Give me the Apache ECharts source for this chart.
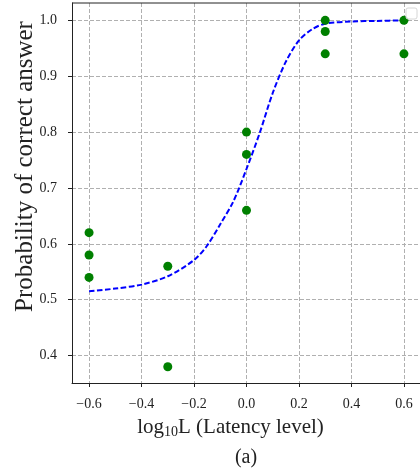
<!DOCTYPE html>
<html>
<head>
<meta charset="utf-8">
<script src="https://cdn.jsdelivr.net/npm/echarts@6/dist/echarts.min.js"></script>
<style>html,body{margin:0;padding:0;background:#fff}#c{width:420px;height:470px}</style>
</head>
<body>
<div id="c"></div>
<script>
// Observed data points (latency level, probability)
const obsX = [-0.6, -0.6, -0.6, -0.3, -0.3, 0.0, 0.0, 0.0, 0.3, 0.3, 0.3, 0.6, 0.6];
const obsY = [0.62, 0.58, 0.54, 0.56, 0.38, 0.80, 0.76, 0.66, 1.00, 0.98, 0.94, 1.00, 0.94];
// Fitted curve
const fitX = [-0.6, -0.5, -0.4, -0.3, -0.2, -0.15, -0.1, -0.05, 0.0, 0.05, 0.1, 0.15, 0.2, 0.25, 0.3, 0.4, 0.5, 0.6];
const fitY = [0.515, 0.520, 0.527, 0.542, 0.571, 0.597, 0.635, 0.676, 0.734, 0.798, 0.870, 0.926, 0.964, 0.984, 0.994, 0.998, 0.999, 1.0];
// Tick labels
const xTicks = [-0.6, -0.4, -0.2, 0.0, 0.2, 0.4, 0.6];
const yTicks = [0.4, 0.5, 0.6, 0.7, 0.8, 0.9, 1.0];

const FONT = '"Liberation Serif", "DejaVu Serif", serif';
const fmt = v => v.toFixed(1).replace('-', '\u2212');
const chart = echarts.init(document.getElementById('c'), null, {renderer: 'canvas'});
const gridLine = {show: true, lineStyle: {color: '#b0b0b0', type: [4, 2], width: 1}};
chart.setOption({
  animation: false,
  title: {text: '(a)', left: 241, top: 443, textAlign: 'center',
    textStyle: {fontFamily: FONT, fontSize: 20, fontWeight: 'normal', color: '#222'}},
  grid: {left: 72, right: -1, top: 3, bottom: 87, containLabel: false, outerBoundsMode: 'none'},
  xAxis: {
    type: 'value', min: -0.665, max: 0.665,
    axisLine: {show: true, onZero: false, lineStyle: {color: '#222', width: 1}},
    axisTick: {show: true, inside: false, length: 4, customValues: xTicks, lineStyle: {color: '#222'}},
    axisLabel: {customValues: xTicks, margin: 14, fontFamily: FONT, fontSize: 14, color: '#222',
      formatter: fmt},
    splitLine: gridLine,
    name: '{t|log}{s|10}{t|L (Latency level)}',
    nameLocation: 'middle', nameGap: 33, nameMoveOverlap: false,
    nameTextStyle: {padding: [0, 32, 0, 0], rich: {
      t: {fontFamily: FONT, fontSize: 21, color: '#222'},
      s: {fontFamily: FONT, fontSize: 14, color: '#222', verticalAlign: 'bottom', padding: [9, 0, 0, 0]}
    }}
  },
  yAxis: {
    type: 'value', min: 0.351, max: 1.031,
    axisLine: {show: true, onZero: false, lineStyle: {color: '#222', width: 1}},
    axisTick: {show: true, inside: false, length: 4, customValues: yTicks, lineStyle: {color: '#222'}},
    axisLabel: {customValues: yTicks, margin: 15, fontFamily: FONT, fontSize: 14, color: '#222',
      formatter: fmt},
    splitLine: gridLine,
    name: 'Probability of correct answer',
    nameLocation: 'middle', nameGap: 34, nameRotate: 90, nameMoveOverlap: false,
    nameTextStyle: {fontFamily: FONT, fontSize: 25, color: '#222', padding: [0, 0, 0, 53]}
  },
  graphic: [
    {type: 'line', shape: {x1: 72, y1: 3, x2: 420, y2: 3}, style: {stroke: '#222', lineWidth: 1}, z: 10},
    {type: 'rect', shape: {x: 406, y: 8, width: 11, height: 11, r: 2},
      style: {fill: 'rgba(255,255,255,0.85)', stroke: '#d6d6d6', lineWidth: 1}, z: 20}
  ],
  series: [
    {type: 'line', data: fitX.map((x, i) => [x, fitY[i]]), smooth: 0.3, showSymbol: false,
      lineStyle: {color: '#0000ff', width: 2, type: [5.5, 2.5]}, z: 3},
    {type: 'scatter', data: obsX.map((x, i) => [x, obsY[i]]), symbol: 'circle', symbolSize: 9,
      itemStyle: {color: '#008000', opacity: 1}, z: 4}
  ]
});
</script>
</body>
</html>
